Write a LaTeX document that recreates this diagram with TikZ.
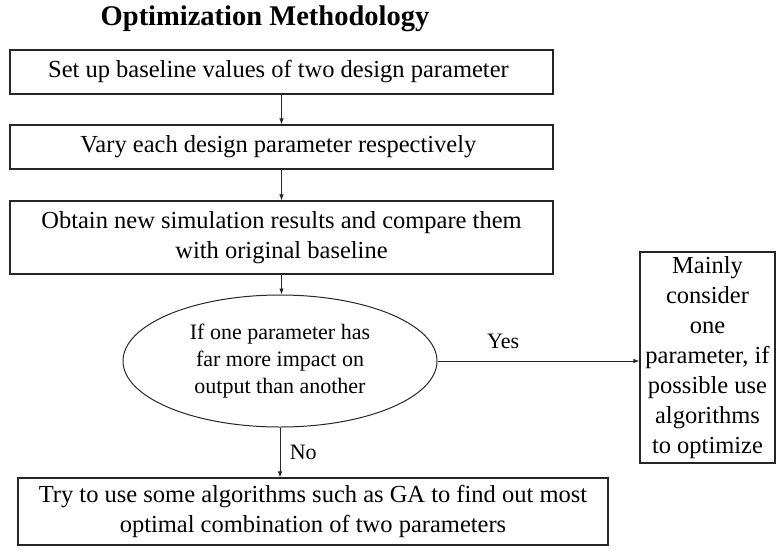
\documentclass[tikz,border=0pt]{standalone}
\usepackage{fontspec}
\setmainfont{Liberation Serif}
\usetikzlibrary{positioning, shapes.geometric, arrows.meta}

\begin{document}
\begin{tikzpicture}[
    x=1pt, y=-1pt,
    stepbox/.style={rectangle, draw=black!85, line width=1.1pt, inner sep=2pt,
                    align=center, font=\fontsize{24.5}{30}\selectfont},
    decision/.style={ellipse, draw=black!85, line width=1pt, inner sep=0pt,
                     minimum width=314pt, minimum height=132pt, align=center,
                     font=\fontsize{22}{27}\selectfont},
    flow/.style={-{Latex[length=6pt, width=4.5pt]}, draw=black!85, line width=0.9pt},
    answer/.style={font=\fontsize{22}{24}\selectfont},
  ]
    \useasboundingbox (0,0) rectangle (777,550);

    \node[font=\bfseries\fontsize{28.5}{32}\selectfont] (T) at (265,18.5) {Optimization Methodology};

    \node[stepbox, minimum width=543pt, minimum height=44pt] (S1) at (281.5,72) {
      Set up baseline values of two design parameter
    };

    \node[stepbox, minimum width=543pt, minimum height=44pt] (S2) at (281.5,147) {
      Vary each design parameter respectively
    };

    \node[stepbox, minimum width=543pt, minimum height=73pt] (S3) at (281.5,237.5) {
      Obtain new simulation results and compare them\\with original baseline
    };

    \node[decision] (D) at (280,361) {
      If one parameter has\\far more impact on\\output than another
    };

    \node[stepbox, minimum width=135pt, minimum height=211pt] (R) at (707.5,357.5) {
      Mainly\\consider\\one\\parameter, if\\possible use\\algorithms\\to optimize
    };

    \node[stepbox, minimum width=590pt, minimum height=67pt] (S4) at (313,511.5) {
      Try to use some algorithms such as GA to find out most\\optimal combination of two parameters
    };

    % connectors
    \draw[flow] (S1.south) -- (S2.north);
    \draw[flow] (S2.south) -- (S3.north);
    \draw[flow] (S3.south) -- (S3.south |- D.north);
    \draw[flow] (D.south) -- node[answer, right, xshift=6pt] {No} (D.south |- S4.north);
    \draw[flow] (D.east) -- node[answer, above, pos=0.325, yshift=8.5pt] {Yes} (D.east -| R.west);
  \end{tikzpicture}
\end{document}
